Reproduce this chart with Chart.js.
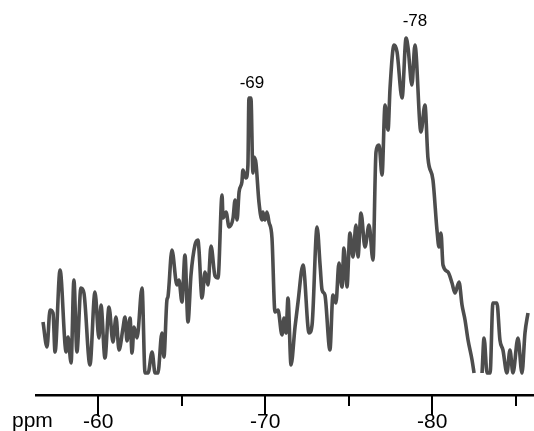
<!DOCTYPE html>
<html>
<head>
<meta charset="utf-8">
<script src="https://cdn.jsdelivr.net/npm/chart.js@4/dist/chart.umd.min.js"></script>
<style>
html,body{margin:0;padding:0;background:#fff;}
canvas{display:block;}
</style>
</head>
<body>
<canvas id="c" width="534" height="431"></canvas>
<script>
// Chemical shift (ppm) and intensity (arbitrary units)
const shiftPpm = [
-56.69,-56.93,-57.11,-57.29,-57.41,-57.71,-58.01,-58.07,-58.19,-58.37,
-58.54,-58.72,-58.96,-59.14,-59.50,-59.80,-60.04,-60.16,-60.40,-60.64,
-60.88,-61.06,-61.24,-61.48,-61.60,-61.72,-61.90,-62.02,-62.14,-62.32,
-62.62,-62.80,-62.98,-63.22,-63.40,-63.57,-63.81,-63.93,-64.11,-64.17,
-64.41,-64.71,-64.83,-65.01,-65.19,-65.37,-65.55,-65.79,-65.97,-66.03,
-66.21,-66.39,-66.57,-66.75,-66.99,-67.17,-67.41,-67.47,-67.65,-67.83,
-68.07,-68.19,-68.31,-68.43,-68.60,-68.66,-68.84,-68.96,-69.02,-69.14,
-69.26,-69.32,-69.44,-69.62,-69.80,-69.86,-69.98,-70.10,-70.22,-70.40,
-70.58,-70.76,-71.00,-71.12,-71.24,-71.36,-71.54,-71.78,-71.96,-72.26,
-72.62,-72.80,-73.10,-73.28,-73.40,-73.57,-73.87,-74.05,-74.23,-74.41,
-74.59,-74.71,-74.89,-75.07,-75.25,-75.43,-75.55,-75.73,-75.97,-76.21,
-76.45,-76.63,-76.81,-76.99,-77.17,-77.35,-77.47,-77.71,-77.89,-78.19,
-78.43,-78.55,-78.78,-78.96,-79.32,-79.56,-79.74,-80.04,-80.28,-80.40,
-80.52,-80.64,-80.94,-81.18,-81.36,-81.60,-81.78,-81.96,-82.14,-82.38,
-82.50,-82.74,-82.98,-83.10,-83.28,-83.46,-83.63,-83.87,-84.05,-84.23,
-84.47,-84.65,-84.83,-85.13,-85.37,-85.55,-85.73
];
const intensity = [
51,26,63,60,21,103,28,21,36,10,
93,21,85,80,8,81,35,68,15,66,
31,56,23,45,56,32,55,20,46,35,
85,0,0,21,0,0,40,16,73,76,
123,88,93,71,118,51,98,128,133,123,
75,101,88,127,97,95,178,155,161,146,
155,173,153,181,191,203,195,208,275,275,
200,216,210,171,153,161,153,161,151,135,
61,63,38,55,40,75,8,46,71,108,
40,48,146,108,83,78,23,78,70,110,
86,125,86,140,116,148,116,160,126,148,
113,221,228,198,268,243,285,328,321,275,
335,325,288,328,241,268,215,193,143,126,
140,108,101,90,80,91,68,53,33,13,
0,null,0,35,0,0,70,70,33,23,
0,23,0,35,0,40,60
];
const tickValues = [-60,-65,-70,-75,-80,-85];
const labelledTicks = [-60,-70,-80];
const axisTitle = 'ppm';
const peakText = ['-69','-78'];
const peakPpm = [-69.2,-78.96];
const peakLabelY = [290,352];

const points = shiftPpm.map((x,i)=>({x:x,y:intensity[i]}));
const FONT = '"Liberation Sans", Arial, sans-serif';

const annot = {
  id:'annot',
  afterDraw(chart){
    const ctx = chart.ctx, xs = chart.scales.x, ys = chart.scales.y;
    ctx.save();
    // tick marks: longer for labelled ticks
    ctx.strokeStyle = '#000';
    ctx.lineWidth = 2;
    tickValues.forEach(v=>{
      const px = Math.round(xs.getPixelForValue(v));
      const len = labelledTicks.includes(v) ? 20 : 11;
      ctx.beginPath();
      ctx.moveTo(px, xs.top);
      ctx.lineTo(px, xs.top + len);
      ctx.stroke();
    });
    ctx.fillStyle = '#000';
    ctx.font = '17px ' + FONT;
    ctx.textAlign = 'center';
    ctx.textBaseline = 'middle';
    peakText.forEach((t,i)=>{
      ctx.fillText(t, xs.getPixelForValue(peakPpm[i]), ys.getPixelForValue(peakLabelY[i]));
    });
    ctx.font = '21px ' + FONT;
    ctx.textAlign = 'left';
    ctx.textBaseline = 'alphabetic';
    ctx.fillText(axisTitle, 12, xs.top + 32);
    ctx.restore();
  }
};

new Chart(document.getElementById('c'), {
  type:'line',
  data:{datasets:[{
    data:points,
    borderColor:'#4d4d4d',
    borderWidth:3.6,
    pointRadius:0,
    cubicInterpolationMode:'monotone',
    spanGaps:false,
    fill:false
  }]},
  options:{
    responsive:false,
    animation:false,
    events:[],
    layout:{padding:{left:36,right:0,top:0,bottom:0}},
    plugins:{legend:{display:false},tooltip:{enabled:false},title:{display:false}},
    scales:{
      x:{
        type:'linear',
        reverse:true,
        min:-86.09,
        max:-56.27,
        afterBuildTicks(scale){ scale.ticks = tickValues.map(v=>({value:v})); },
        afterFit(scale){ scale.height = 36; },
        ticks:{
          autoSkip:false,
          maxRotation:0,
          padding:15,
          color:'#000',
          font:{family:FONT,size:21},
          callback:(v)=> labelledTicks.includes(v) ? String(v) : ''
        },
        grid:{drawOnChartArea:false,drawTicks:false},
        border:{display:true,color:'#000',width:2.5}
      },
      y:{
        display:false,
        min:-22,
        max:373
      }
    }
  },
  plugins:[annot]
});
</script>
</body>
</html>
